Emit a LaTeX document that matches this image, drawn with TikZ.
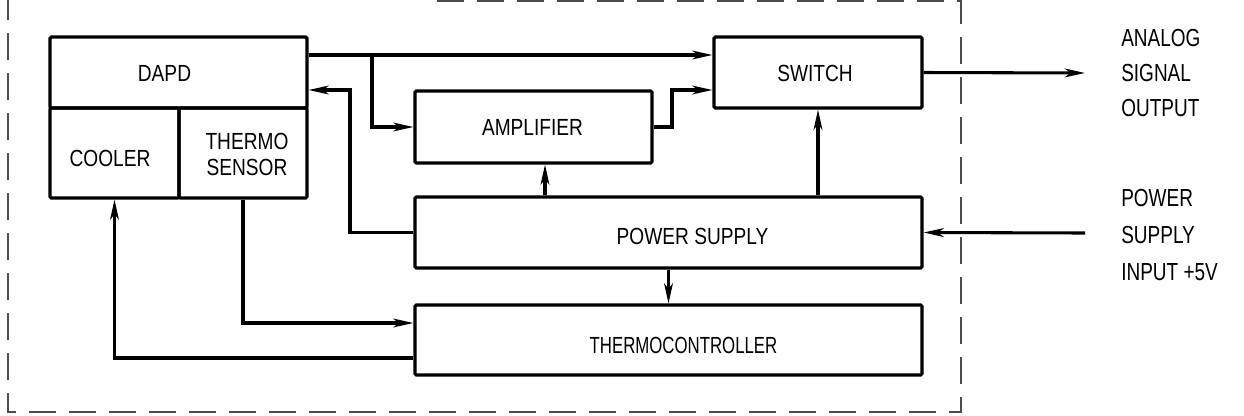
\documentclass[tikz,border=0pt]{standalone}
\usepackage{fontspec}
\setmainfont{Liberation Sans}
\newfontfamily\boxfont[FakeStretch=0.82]{Liberation Sans}
\newfontfamily\tcfont[FakeStretch=0.72]{Liberation Sans}
\newfontfamily\sidefont[FakeStretch=0.77]{Liberation Sans}
\usetikzlibrary{arrows.meta,calc}
\begin{document}
\begin{tikzpicture}[x=0.75pt,y=-0.75pt,
  blk/.style={draw, line width=2.3pt, rounded corners=1pt, inner sep=0pt},
  txt/.style={inner sep=0pt, align=center, font=\boxfont\fontsize{17.5}{20}\selectfont},
  conn/.style={line width=2.3pt, -{Stealth[length=15pt,width=6.5pt,inset=4pt]}},
  frame/.style={draw=black!70, line width=1.1pt, dash pattern=on 20pt off 10pt},
  side/.style={align=left, anchor=west, inner sep=0pt,
    font=\sidefont\fontsize{18.5}{26.25}\selectfont}]
\useasboundingbox (0,0) rectangle (1244,415);

% dashed enclosure
\draw[frame] (437,1) -- (961,1) -- (961,412) -- (8,412) -- (8,0);

% blocks
\node[blk, minimum width=192.75pt, minimum height=53.25pt] (dapd) at (178.5,72.5) {};
\node[blk, minimum width=96.75pt, minimum height=67.5pt] (cool) at (114.5,153) {};
\node[blk, minimum width=96pt, minimum height=67.5pt] (ts) at (243,153) {};
\node[blk, minimum width=177.75pt, minimum height=54pt] (amp) at (533.5,127) {};
\node[blk, minimum width=156pt, minimum height=53.25pt] (sw) at (818,72.5) {};
\node[blk, minimum width=380.25pt, minimum height=53.25pt] (ps) at (668.5,232.5) {};
\node[blk, minimum width=380.25pt, minimum height=52.5pt] (tc) at (668.5,340) {};

% block texts
\node[txt] (tdapd) at ($(dapd.center)+(-14,0.5)$) {DAPD};
\node[txt] (tcool) at ($(cool.center)+(-4.5,5)$) {COOLER};
\node[txt] (tts) at ($(ts.center)+(4,1.5)$) {THERMO\\SENSOR};
\node[txt] (tamp) at ($(amp.center)+(-1,0.5)$) {AMPLIFIER};
\node[txt] (tsw) at ($(sw.center)+(-3,0.5)$) {SWITCH};
\node[txt] (tps) at ($(ps.center)+(24,4)$) {POWER SUPPLY};
\node[txt, font=\tcfont\fontsize{17.5}{20}\selectfont] (ttc) at ($(tc.center)+(15,5)$) {THERMOCONTROLLER};

% helper coordinates
\coordinate (j1) at (372,55);
\coordinate (k1) at (672,90);
\coordinate (m1) at (350,90);
\coordinate (a1) at (545,0);
\coordinate (out) at (1085,73);
\coordinate (in) at (1085,233);
\coordinate (c1) at (0,323);
\coordinate (c2) at (0,358);

% connectors
\draw[conn] (dapd.east |- j1) -- (sw.west |- j1);
\draw[conn] (j1) |- (amp.west);
\draw[conn] (amp.east) -| (k1) -- (sw.west |- k1);
\draw[conn] (ps.west) -| (m1) -- (dapd.east |- m1);
\draw[conn] (ps.north -| a1) -- (amp.south -| a1);
\draw[conn] (ps.north -| sw.south) -- (sw.south);
\draw[conn] (sw.east) -- (out);
\draw[conn] (in) -- (ps.east);
\draw[conn] (ps.south) -- (tc.north);
\draw[conn] (ts.south) |- (tc.west |- c1);
\draw[conn] (tc.west |- c2) -| (cool.south);

% side labels
\node[side] (lout) at (1121,73) {ANALOG\\SIGNAL\\OUTPUT};
\node[side, font=\sidefont\fontsize{18.5}{27.5}\selectfont] (lin) at (1121,235) {POWER\\SUPPLY\\INPUT +5V};
\end{tikzpicture}
\end{document}
